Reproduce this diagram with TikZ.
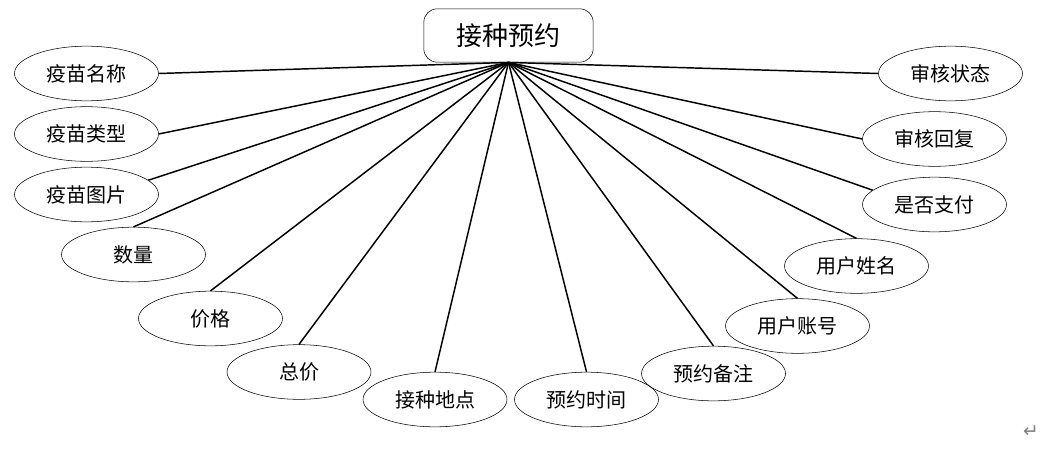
\documentclass[tikz,border=0pt]{standalone}
\usepackage{fontspec}
\newfontfamily\cjk{Noto Sans CJK SC}
\newfontfamily\symb{DejaVu Sans}
\usetikzlibrary{shapes.geometric}

\begin{document}
\begin{tikzpicture}[
    x=0.75pt, y=-0.75pt,
    every edge/.style={draw, line width=1.1pt},
    entity/.style={draw, thin, rounded corners=10pt,
                   minimum width=127pt, minimum height=40pt,
                   font=\cjk\fontsize{19.5}{19.5}\selectfont},
    attr/.style={draw, thin, ellipse, inner sep=0pt,
                 minimum width=108pt, minimum height=41pt,
                 font=\cjk\fontsize{15}{15}\selectfont}]

    \useasboundingbox (0,0) rectangle (1046,464);

    \node[entity] (yy) at (508.5,35.5) {接种预约};

    % left side
    \node[attr] (mc) at (86.5,73.5) {疫苗名称};
    \node[attr] (lx) at (86.5,134) {疫苗类型};
    \node[attr] (tp) at (86.5,194.5) {疫苗图片};
    \node[attr] (sl) at (133.5,254.5) {数量};
    \node[attr] (jg) at (210.5,318.5) {价格};
    \node[attr] (zj) at (299,372) {总价};
    \node[attr] (dd) at (435,399.5) {接种地点};

    % right side
    \node[attr] (sj) at (586.5,399.5) {预约时间};
    \node[attr] (bz) at (713.5,373.5) {预约备注};
    \node[attr] (zh) at (797.5,326) {用户账号};
    \node[attr] (xm) at (856.5,266) {用户姓名};
    \node[attr] (zf) at (934.5,204.5) {是否支付};
    \node[attr] (hf) at (934.5,139) {审核回复};
    \node[attr] (zt) at (950.5,73.5) {审核状态};

    % connectors
    \path (mc.east) edge (yy.south)
          (lx.east) edge (yy.south)
          (tp.13)   edge (yy.south)
          (sl.north) edge (yy.south)
          (jg.north) edge (yy.south)
          (zj.north) edge (yy.south)
          (dd.north) edge (yy.south)
          (sj.north) edge (yy.south)
          (bz.north) edge (yy.south)
          (zh.north) edge (yy.south)
          (xm.north) edge (yy.south)
          (zf.167)  edge (yy.south)
          (hf.west) edge (yy.south)
          (zt.west) edge (yy.south);

    \node[text=gray, font=\symb\fontsize{14}{14}\selectfont] (ret) at (1031,432) {↵};

\end{tikzpicture}
\end{document}
